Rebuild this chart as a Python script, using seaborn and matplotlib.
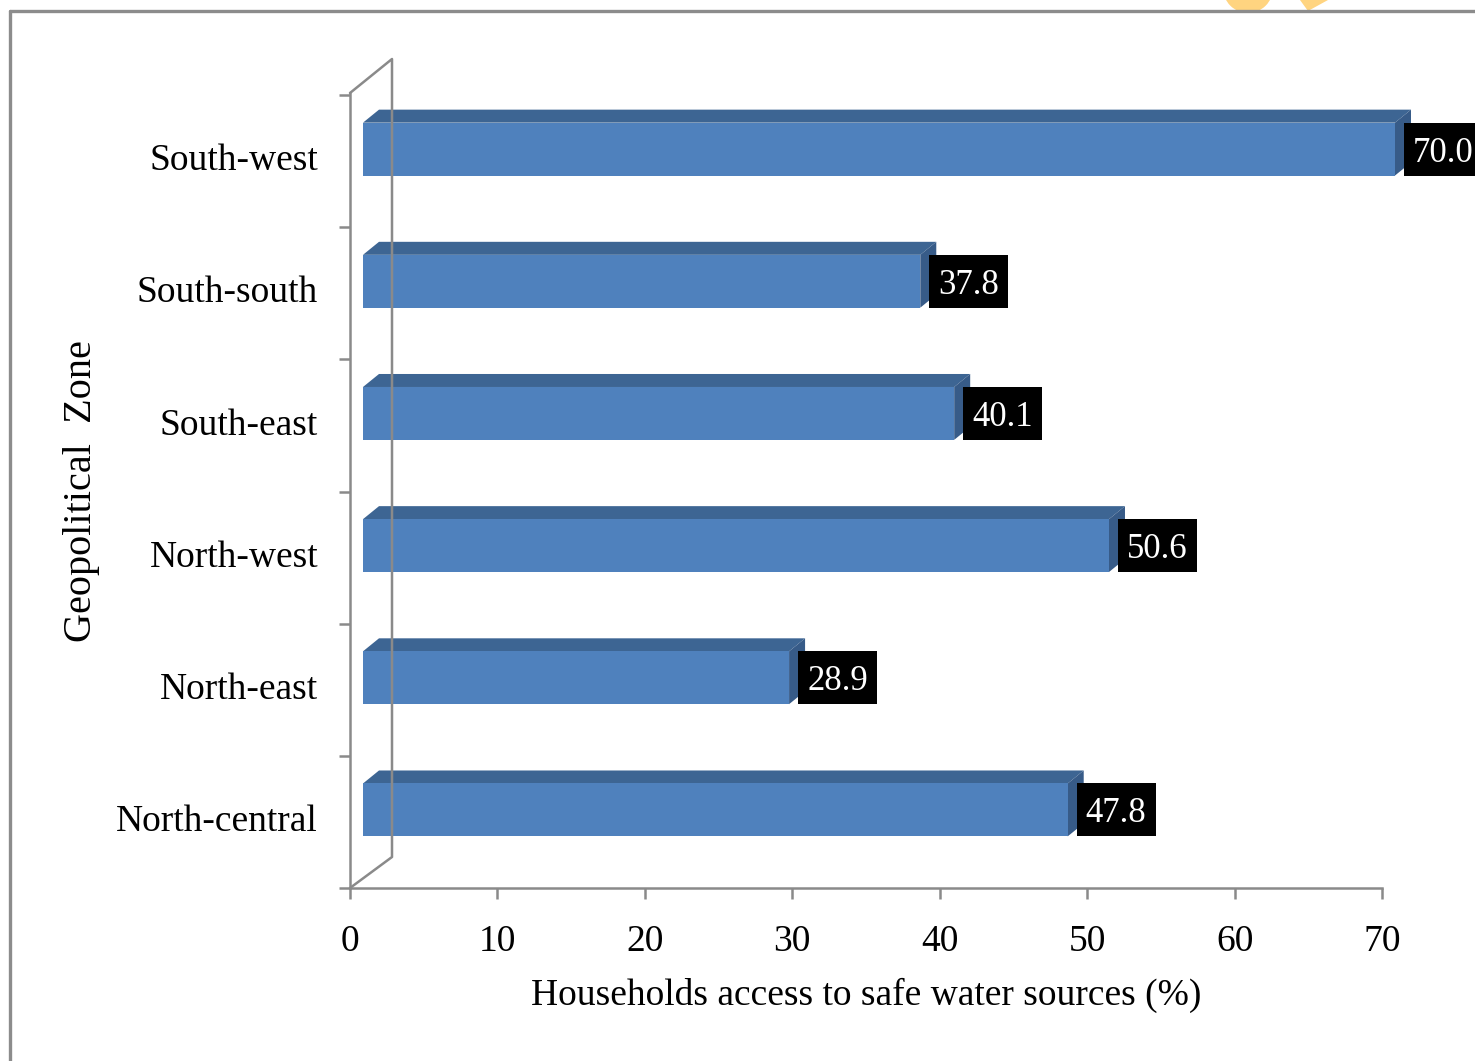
import numpy as np
import pandas as pd
import seaborn as sns
import matplotlib
matplotlib.use("Agg")
import matplotlib.pyplot as plt
import matplotlib.transforms as mtransforms
from matplotlib.patches import Polygon, Rectangle, Circle
from matplotlib.lines import Line2D

# ---- data -------------------------------------------------------------
zones = ["South-west", "South-south", "South-east",
         "North-west", "North-east", "North-central"]
access = [70.0, 37.8, 40.1, 50.6, 28.9, 47.8]
x_ticks = [0, 10, 20, 30, 40, 50, 60, 70]
x_label = "Households access to safe water sources (%)"
y_label = "Geopolitical  Zone"

df = pd.DataFrame({"zone": zones, "access": access})

# ---- style ------------------------------------------------------------
sns.set_theme(style="white")
plt.rcParams["font.family"] = ["Liberation Serif", "DejaVu Serif"]
plt.rcParams["text.color"] = "black"
plt.rcParams["axes.labelcolor"] = "black"
plt.rcParams["xtick.color"] = "black"
plt.rcParams["ytick.color"] = "black"

FRONT = "#4f81bd"
TOP = "#3d6593"
SIDE = "#375b88"
AXIS_GREY = "#8a8a8a"
LW = 1.8

W, H = 1475, 1061
fig = plt.figure(figsize=(W / 100, H / 100), dpi=100)
ax = fig.add_axes([350 / W, 1 - 888 / H, (1382 - 350) / W, (888 - 95) / H])


def px_shift(dx, dy):
    """Data transform shifted by (dx, dy) display pixels (y up)."""
    return ax.transData + mtransforms.Affine2D().translate(dx, dy)


# front faces of the bars
sns.barplot(data=df, x="access", y="zone", orient="h", width=0.4,
            color=FRONT, saturation=1, ax=ax, zorder=3)
ax.set_xlim(0, 70)
ax.set_ylim(len(zones) - 0.5, -0.5)

# offset of the bar front plane and depth of each bar (pixels)
FX, FY = 13, 12
DX, DY = 16, 13
ux = (1382 - 350) / 70.0
uy = (888 - 95) / len(zones)
ddx, ddy = DX / ux, DY / uy

for p in ax.patches:
    p.set_transform(px_shift(FX, FY))
    p.set_edgecolor("none")
    p.set_clip_on(False)

half = 0.2
for i, v in enumerate(access):
    yt, yb = i - half, i + half
    top = Polygon([(0, yt), (v, yt), (v + ddx, yt - ddy), (ddx, yt - ddy)],
                  closed=True, facecolor=TOP, edgecolor="none",
                  transform=px_shift(FX, FY), zorder=2, clip_on=False)
    side = Polygon([(v, yt), (v + ddx, yt - ddy), (v + ddx, yb - ddy), (v, yb)],
                   closed=True, facecolor=SIDE, edgecolor="none",
                   transform=px_shift(FX, FY), zorder=2, clip_on=False)
    ax.add_patch(top)
    ax.add_patch(side)

    # value label: black box with white text right of the bar
    anchor = (fig.dpi_scale_trans +
              mtransforms.ScaledTranslation(v, i, ax.transData))
    bw, bh = 79, 53
    bx = (FX + 9) / 100.0
    by = (FY - bh / 2) / 100.0
    ax.add_patch(Rectangle((bx, by), bw / 100.0, bh / 100.0,
                           facecolor="black", edgecolor="none",
                           transform=anchor, zorder=5, clip_on=False))
    ax.text(bx + bw / 200.0, by + bh / 200.0 - 0.04, f"{v:.1f}",
            transform=anchor, color="white", fontsize=25,
            ha="center", va="center", zorder=6, clip_on=False)

# side wall of the 3-D frame, drawn as offsets from the axes corners
WX, WY_B, WY_T = 42, 31, 34
corner_bl = ax.transAxes.transform((0, 0))
corner_tl = ax.transAxes.transform((0, 1))
wall_pts = [
    (corner_bl[0], corner_bl[1]),
    (corner_bl[0] + WX, corner_bl[1] + WY_B),
    (corner_tl[0] + WX, corner_tl[1] + WY_T + 2),
    (corner_tl[0], corner_tl[1] + 2),
]
xs, ys = zip(*wall_pts)
fig.add_artist(Line2D(xs, ys, color=AXIS_GREY, lw=LW,
                      transform=mtransforms.IdentityTransform(), zorder=1))

# ---- axes -------------------------------------------------------------
for s in ["top", "right"]:
    ax.spines[s].set_visible(False)
for s in ["left", "bottom"]:
    ax.spines[s].set_color(AXIS_GREY)
    ax.spines[s].set_linewidth(LW)
ax.spines["left"].set_bounds(len(zones) - 0.5, -0.5 - 2 / uy)

ax.set_xticks(x_ticks)
ax.set_xticklabels([str(t) for t in x_ticks])
ax.tick_params(axis="x", direction="out", length=8, width=LW,
               color=AXIS_GREY, labelcolor="black", labelsize=27, pad=18,
               bottom=True)

ax.set_yticks(np.arange(-0.5, len(zones), 1.0))
ax.set_yticklabels([])
ax.set_yticks(np.arange(len(zones)), minor=True)
ax.set_yticklabels(zones, minor=True)
ax.tick_params(axis="y", which="major", direction="out", length=8,
               width=LW, color=AXIS_GREY, left=True)
ax.tick_params(axis="y", which="minor", length=0, labelsize=27, pad=23,
               labelcolor="black")
for lbl in ax.get_yticklabels(minor=True):
    lbl.set_va("center")

ax.set_xlabel(x_label, fontsize=27, color="black")
ax.xaxis.set_label_coords(0.5, -(995 - 888) / (888 - 95))
ax.xaxis.label.set_va("center")
ax.set_ylabel(y_label, fontsize=29, color="black")
ax.yaxis.set_label_coords(-(350 - 82) / (1382 - 350), 0.5)
ax.yaxis.label.set_va("center")
ax.grid(False)
ax.set_facecolor("none")

# ---- page frame and logo fragment above it ---------------------------
ident = mtransforms.IdentityTransform()
fig.add_artist(Circle((1248, H + 12), 25, facecolor="#ffd480",
                      edgecolor="none", transform=ident, zorder=0))
fig.add_artist(Polygon([(1300, H), (1328, H), (1308, H - 11)], closed=True,
                       facecolor="#ffd480", edgecolor="none",
                       transform=ident, zorder=0))
fig.add_artist(Line2D([10, W], [H - 11, H - 11], color="#8c8c8c", lw=2.4,
                      transform=ident, zorder=1))
fig.add_artist(Line2D([10, 10], [0, H - 11], color="#8c8c8c", lw=2.4,
                      transform=ident, zorder=1))

fig.savefig("out.png", dpi=100)
